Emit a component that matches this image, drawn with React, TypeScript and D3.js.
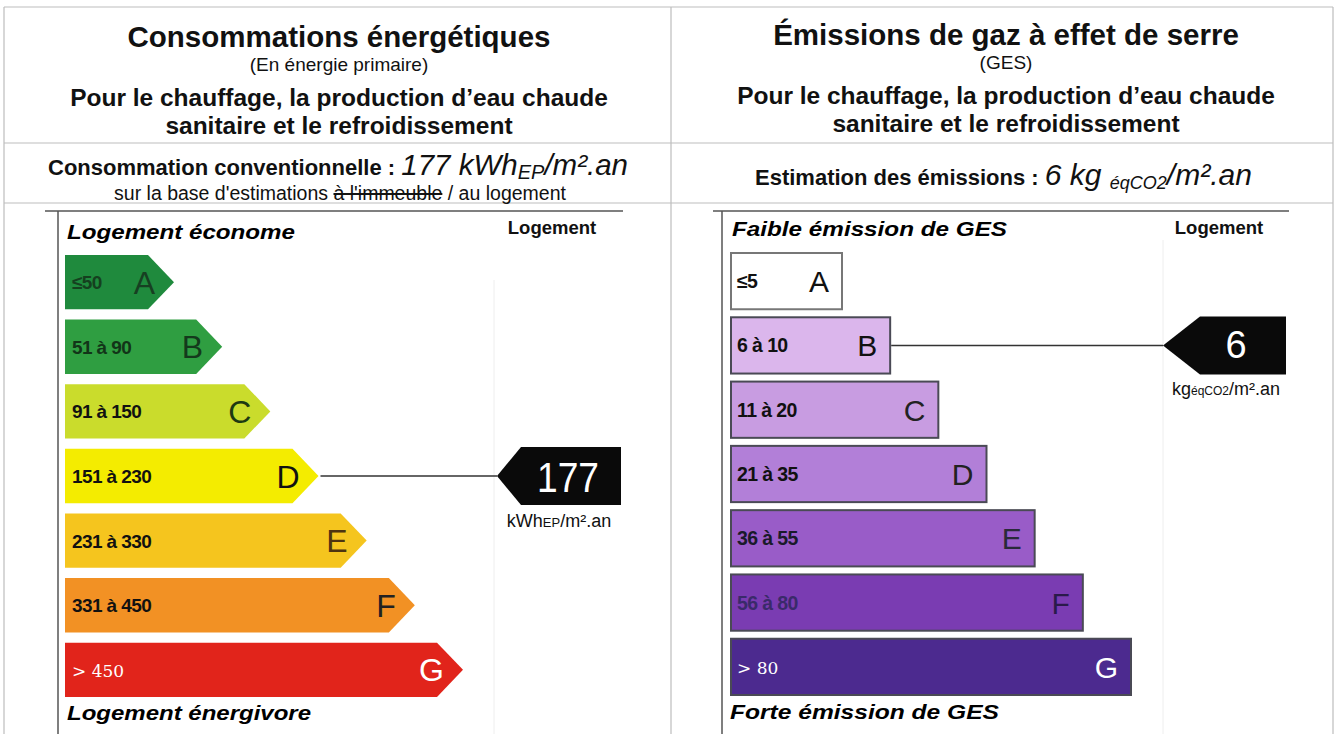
import * as d3 from 'd3';
import React from 'react';

// classes and their ranges
const classes = ['A', 'B', 'C', 'D', 'E', 'F', 'G'];

const energyRanges = ['≤50', '51 à 90', '91 à 150', '151 à 230', '231 à 330', '331 à 450', '> 450'];
const energyBounds = [50, 90, 150, 230, 330, 450, Infinity];
const energyColors = ['#1f8a3d', '#2f9e41', '#cadc2c', '#f4ec00', '#f5c51e', '#f29124', '#e1241b'];
const energyLetterColors = ['#173f22', '#143a1c', '#1d3a12', '#111', '#4e3410', '#222', '#fff'];
const energyRangeColors = ['#15401f', '#123418', '#111', '#111', '#111', '#111', '#fff'];
const energyValue = 177;

const gesRanges = ['≤5', '6 à 10', '11 à 20', '21 à 35', '36 à 55', '56 à 80', '> 80'];
const gesBounds = [5, 10, 20, 35, 55, 80, Infinity];
const gesColors = ['#ffffff', '#dbb6ec', '#c89ce1', '#b27fd8', '#995cc8', '#7a3cb2', '#4c2a8f'];
const gesLetterColors = ['#111', '#111', '#222', '#222', '#2a2a3a', '#2a1a4a', '#fff'];
const gesRangeColors = ['#111', '#111', '#111', '#111', '#1a1a2a', '#3a2a6a', '#fff'];
const gesValue = 6;

const FONT = '"Liberation Sans", Arial, sans-serif';

const classOf = (v, bounds) => classes[bounds.findIndex((b) => v <= b)];

function App() {
  const W = 1335, H = 734;

  // energy scales
  const yE = d3.scaleBand().domain(classes).range([255, 697]).paddingInner(0.16);
  const tipE = d3.scaleLinear().domain([0, 6]).range([174, 463]);
  const depthE = 26;
  const x0E = 65;

  // ges scales
  const yG = d3.scaleBand().domain(classes).range([253, 695]).paddingInner(0.125);
  const endG = d3.scaleLinear().domain([0, 6]).range([842, 1131]);
  const x0G = 731;

  const line = d3.line();

  const eCls = classOf(energyValue, energyBounds);
  const eMid = yE(eCls) + yE.bandwidth() / 2;
  const eTip = tipE(classes.indexOf(eCls));

  const gCls = classOf(gesValue, gesBounds);
  const gMid = yG(gCls) + yG.bandwidth() / 2;
  const gEnd = endG(classes.indexOf(gCls));

  const bold = { fontFamily: FONT, fontWeight: 700 };

  return (
    <svg width={W} height={H} style={{ position: 'absolute', left: 0, top: 0, background: '#fff' }}>
      {/* frame lines */}
      <g stroke="#bdbdbd" strokeWidth={1.2} fill="none">
        <line x1={4} x2={1333} y1={7} y2={7} />
        <line x1={4} x2={4} y1={7} y2={734} />
        <line x1={671} x2={671} y1={7} y2={734} />
        <line x1={1333} x2={1333} y1={7} y2={734} />
        <line x1={4} x2={1333} y1={143} y2={143} />
        <line x1={4} x2={1333} y1={203} y2={203} />
      </g>
      <g stroke="#555" strokeWidth={1.5}>
        <line x1={45} x2={623} y1={211} y2={211} />
        <line x1={713} x2={1289} y1={211} y2={211} />
        <line x1={58} x2={58} y1={211} y2={734} />
        <line x1={722} x2={722} y1={211} y2={734} />
      </g>
      <g stroke="#eeeeee" strokeWidth={1}>
        <line x1={494} x2={494} y1={280} y2={734} />
        <line x1={1163} x2={1163} y1={240} y2={734} />
      </g>

      {/* left header */}
      <g textAnchor="middle" fill="#111">
        <text x={339} y={47} fontSize={29.5} style={bold}>Consommations énergétiques</text>
        <text x={339} y={71} fontSize={19} fontFamily={FONT}>(En énergie primaire)</text>
        <text x={339} y={106} fontSize={24.5} style={bold}>Pour le chauffage, la production d’eau chaude</text>
        <text x={339} y={134} fontSize={24.5} style={bold}>sanitaire et le refroidissement</text>
      </g>
      <text x={48} y={175} fill="#111" fontFamily={FONT}>
        <tspan fontSize={22} fontWeight={700}>Consommation conventionnelle : </tspan>
        <tspan fontSize={29.5} fontStyle="italic">{energyValue} kWh</tspan>
        <tspan fontSize={20} fontStyle="italic" dy={4}>EP</tspan>
        <tspan fontSize={29.5} fontStyle="italic" dy={-4}>/m².an</tspan>
      </text>
      <text x={340} y={200} fontSize={19.5} fontFamily={FONT} fill="#111" textAnchor="middle">
        sur la base d'estimations <tspan textDecoration="line-through">à l'immeuble</tspan> / au logement
      </text>

      {/* right header */}
      <g textAnchor="middle" fill="#111">
        <text x={1006} y={45} fontSize={29.5} style={bold}>Émissions de gaz à effet de serre</text>
        <text x={1006} y={69} fontSize={19} fontFamily={FONT}>(GES)</text>
        <text x={1006} y={104} fontSize={24.5} style={bold}>Pour le chauffage, la production d’eau chaude</text>
        <text x={1006} y={132} fontSize={24.5} style={bold}>sanitaire et le refroidissement</text>
      </g>
      <text x={755} y={185} fill="#111" fontFamily={FONT}>
        <tspan fontSize={22} fontWeight={700}>Estimation des émissions : </tspan>
        <tspan fontSize={30} fontStyle="italic">{gesValue} kg </tspan>
        <tspan fontSize={18} fontStyle="italic" dy={4}>éqCO2</tspan>
        <tspan fontSize={30} fontStyle="italic" dy={-4}>/m².an</tspan>
      </text>

      {/* energy chart */}
      <text x={67} y={239} fontSize={21} fontStyle="italic" style={bold} textLength={228} lengthAdjust="spacingAndGlyphs">Logement économe</text>
      <text x={67} y={720} fontSize={21} fontStyle="italic" style={bold} textLength={244} lengthAdjust="spacingAndGlyphs">Logement énergivore</text>
      <text x={552} y={234} fontSize={18.5} style={bold} textAnchor="middle" fill="#111">Logement</text>
      {classes.map((c, i) => {
        const top = yE(c);
        const bw = yE.bandwidth();
        const tip = tipE(i);
        const body = tip - depthE;
        const d = line([[x0E, top], [body, top], [tip, top + bw / 2], [body, top + bw], [x0E, top + bw]]) + 'Z';
        return (
          <g key={c}>
            <path d={d} fill={energyColors[i]} />
            <text x={72} y={top + bw / 2 + 7} fontSize={i === 6 ? 17 : 19} fontWeight={i === 6 ? 400 : 700}
              letterSpacing={i === 6 ? 0 : -0.6}
              fontFamily={i === 6 ? '"DejaVu Serif", serif' : FONT} fill={energyRangeColors[i]}>{energyRanges[i]}</text>
            <text x={tip - 19} y={top + bw / 2 + 11.5} fontSize={32} fontFamily={FONT} textAnchor="end"
              fill={energyLetterColors[i]}>{c}</text>
          </g>
        );
      })}
      <line x1={eTip + 2} x2={497} y1={eMid} y2={eMid} stroke="#333" strokeWidth={1.5} />
      <path d={line([[497, eMid], [521, eMid - 29], [621, eMid - 29], [621, eMid + 29], [521, eMid + 29]]) + 'Z'} fill="#0a0a0a" />
      <text x={568} y={eMid + 16} fontSize={42} fontFamily={FONT} fill="#fff" textAnchor="middle" textLength={62} lengthAdjust="spacingAndGlyphs">{energyValue}</text>
      <text x={559} y={eMid + 51} fontSize={18} fontFamily={FONT} fill="#111" textAnchor="middle">
        kWh<tspan fontSize={13}>EP</tspan>/m².an
      </text>

      {/* ges chart */}
      <text x={732} y={236} fontSize={21} fontStyle="italic" style={bold} textLength={275} lengthAdjust="spacingAndGlyphs">Faible émission de GES</text>
      <text x={730} y={719} fontSize={21} fontStyle="italic" style={bold} textLength={269} lengthAdjust="spacingAndGlyphs">Forte émission de GES</text>
      <text x={1219} y={234} fontSize={18.5} style={bold} textAnchor="middle" fill="#111">Logement</text>
      {classes.map((c, i) => {
        const top = yG(c);
        const bw = yG.bandwidth();
        const end = endG(i);
        return (
          <g key={c}>
            <rect x={x0G} y={top} width={end - x0G} height={bw} fill={gesColors[i]}
              stroke={i === 0 ? '#777' : '#4a4a55'} strokeWidth={2} />
            <text x={737} y={top + bw / 2 + 7} fontSize={i === 6 ? 17 : 19.5} fontWeight={i === 6 ? 400 : 700}
              letterSpacing={i === 6 ? 0 : -0.6}
              fontFamily={i === 6 ? '"DejaVu Serif", serif' : FONT} fill={gesRangeColors[i]}>{gesRanges[i]}</text>
            <text x={end - 13} y={top + bw / 2 + 11} fontSize={30} fontFamily={FONT} textAnchor="end"
              fill={gesLetterColors[i]}>{c}</text>
          </g>
        );
      })}
      <line x1={gEnd + 1} x2={1163} y1={gMid} y2={gMid} stroke="#333" strokeWidth={1.5} />
      <path d={line([[1163, gMid], [1200, gMid - 29], [1286, gMid - 29], [1286, gMid + 29], [1200, gMid + 29]]) + 'Z'} fill="#0a0a0a" />
      <text x={1236} y={gMid + 13} fontSize={38} fontFamily={FONT} fill="#fff" textAnchor="middle">{gesValue}</text>
      <text x={1226} y={gMid + 50} fontSize={18} fontFamily={FONT} fill="#111" textAnchor="middle">
        kg<tspan fontSize={12}>éqCO2</tspan>/m².an
      </text>
    </svg>
  );
}

export default App;
